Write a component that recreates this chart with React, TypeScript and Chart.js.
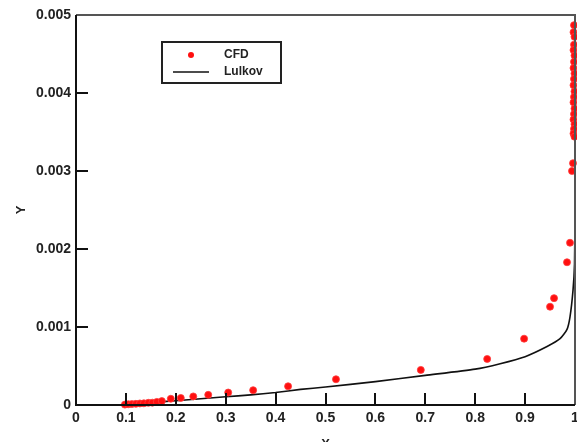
import React, { useEffect, useRef } from "react";
import { Chart, registerables } from "chart.js";

Chart.register(...registerables);

const xTicks = [0, 0.1, 0.2, 0.3, 0.4, 0.5, 0.6, 0.7, 0.8, 0.9, 1];
const yTicks = [0, 0.001, 0.002, 0.003, 0.004, 0.005];

const cfdX = [
  0.098, 0.105, 0.112, 0.12, 0.128, 0.136, 0.145, 0.153, 0.162, 0.172, 0.19, 0.21,
  0.235, 0.265, 0.305, 0.355, 0.425, 0.521, 0.691, 0.824, 0.898, 0.95, 0.958,
  0.984, 0.99, 0.994, 0.996,
  0.998, 0.997, 0.999, 0.998, 0.997, 0.999, 0.998, 0.997, 0.999, 0.998, 0.997,
  0.999, 0.998, 0.997, 0.999, 0.998, 0.997, 0.999, 0.998, 0.997, 0.999,
];
const cfdY = [
  0.000005, 0.00001, 0.000012, 0.000015, 0.00002, 0.000022, 0.000028, 0.00003,
  0.00004, 0.00005, 0.00008, 0.00009, 0.00011, 0.00013, 0.00016, 0.00019, 0.00024,
  0.00033, 0.00045, 0.00059, 0.00085, 0.00126, 0.00137, 0.00183, 0.00208, 0.003,
  0.0031,
  0.00487, 0.00478, 0.00472, 0.00462, 0.00455, 0.00448, 0.0044, 0.00432, 0.00425,
  0.00418, 0.0041, 0.00402, 0.00395, 0.00388, 0.0038, 0.00373, 0.00366, 0.0036,
  0.00354, 0.00348, 0.00344,
];

const lulX = [
  0.1, 0.15, 0.2, 0.25, 0.3, 0.35, 0.4, 0.45, 0.5, 0.6, 0.7, 0.8, 0.85, 0.9, 0.944,
  0.97, 0.984, 0.99, 0.996, 0.999, 1.0, 1.0,
];
const lulY = [
  0, 0.00003, 0.000055, 0.00008, 0.000105, 0.00013, 0.00016, 0.0002, 0.00023,
  0.0003, 0.00038, 0.00046, 0.00053, 0.00062, 0.00075, 0.00085, 0.00097, 0.00113,
  0.00147, 0.0018, 0.0025, 0.005,
];

const seriesLabels = ["CFD", "Lulkov"];

const FONT = "'Liberation Sans', Arial, sans-serif";

const framePlugin = {
  id: "frameAndTicks",
  afterDatasetsDraw(chart: any) {
    const { ctx, chartArea } = chart;
    const { left, right, top, bottom } = chartArea;
    const xs = chart.scales.x;
    const ys = chart.scales.y;
    ctx.save();
    ctx.strokeStyle = "#111";
    ctx.lineWidth = 2;
    ctx.beginPath();
    xs.ticks.forEach((t: any) => {
      const px = Math.round(xs.getPixelForValue(t.value));
      ctx.moveTo(px, bottom);
      ctx.lineTo(px, bottom - 12);
    });
    ys.ticks.forEach((t: any) => {
      const py = Math.round(ys.getPixelForValue(t.value));
      ctx.moveTo(left, py);
      ctx.lineTo(left + 12, py);
    });
    ctx.stroke();
    ctx.strokeStyle = "#555";
    ctx.lineWidth = 2;
    ctx.beginPath();
    ctx.moveTo(left, top);
    ctx.lineTo(right, top);
    ctx.lineTo(right, bottom);
    ctx.stroke();
    ctx.strokeStyle = "#111";
    ctx.beginPath();
    ctx.moveTo(left, top);
    ctx.lineTo(left, bottom);
    ctx.lineTo(right, bottom);
    ctx.stroke();

    const bx = 162, by = 42, bw = 119, bh = 41;
    ctx.fillStyle = "#fff";
    ctx.fillRect(bx, by, bw, bh);
    ctx.strokeStyle = "#222";
    ctx.lineWidth = 2;
    ctx.strokeRect(bx, by, bw, bh);
    const ds0 = chart.data.datasets[0];
    const ds1 = chart.data.datasets[1];
    ctx.fillStyle = ds0.pointBackgroundColor;
    ctx.beginPath();
    ctx.arc(191, 55, 3, 0, Math.PI * 2);
    ctx.fill();
    ctx.strokeStyle = ds1.borderColor;
    ctx.lineWidth = 1.5;
    ctx.beginPath();
    ctx.moveTo(173, 72);
    ctx.lineTo(209, 72);
    ctx.stroke();
    ctx.fillStyle = "#222";
    ctx.font = `bold 12px ${FONT}`;
    ctx.textBaseline = "middle";
    ctx.textAlign = "left";
    ctx.fillText(ds0.label, 224, 55);
    ctx.fillText(ds1.label, 224, 72);
    ctx.restore();
  },
};

function fmtX(v: number) {
  const r = Math.round(v * 10) / 10;
  if (r === 0) return "0";
  if (r === 1) return "1";
  return r.toFixed(1);
}
function fmtY(v: number) {
  const r = Math.round(v * 1000) / 1000;
  if (r === 0) return "0";
  return r.toFixed(3);
}

export default function App() {
  const ref = useRef<HTMLCanvasElement>(null);
  useEffect(() => {
    document.body.style.margin = "0";
    const chart = new Chart(ref.current!, {
      type: "scatter",
      data: {
        datasets: [
          {
            label: seriesLabels[0],
            data: cfdX.map((x, i) => ({ x, y: cfdY[i] })),
            pointRadius: 3.5,
            pointBackgroundColor: "#ff1010",
            pointBorderColor: "rgba(255,60,60,0.8)",
            pointBorderWidth: 1,
            showLine: false,
            clip: false as any,
            order: 1,
          },
          {
            label: seriesLabels[1],
            data: lulX.map((x, i) => ({ x, y: lulY[i] })),
            showLine: true,
            borderColor: "#111",
            borderWidth: 1.6,
            pointRadius: 0,
            tension: 0.2,
            order: 2,
          } as any,
        ],
      },
      options: {
        animation: false,
        responsive: false,
        maintainAspectRatio: false,
        layout: { padding: { top: 15, right: 0, left: 0, bottom: 0 } },
        plugins: {
          legend: { display: false },
          tooltip: { enabled: false },
        },
        scales: {
          x: {
            type: "linear",
            min: 0,
            max: 1,
            afterBuildTicks: (s: any) => {
              s.ticks = xTicks.map((v) => ({ value: v }));
            },
            afterFit: (s: any) => {
              s.height = 37;
              s.paddingLeft = 0;
              s.paddingRight = 0;
            },
            grid: { display: false, drawTicks: false },
            border: { display: false },
            ticks: {
              padding: 5,
              color: "#222",
              font: { family: FONT, size: 14, weight: "bold" },
              callback: (v: any) => fmtX(Number(v)),
              maxRotation: 0,
              autoSkip: false,
            },
            title: {
              display: true,
              text: "X",
              color: "#222",
              font: { family: FONT, size: 13, weight: "bold" },
              padding: { top: 0, bottom: -10 },
            },
          },
          y: {
            type: "linear",
            min: 0,
            max: 0.005,
            afterBuildTicks: (s: any) => {
              s.ticks = yTicks.map((v) => ({ value: v }));
            },
            afterFit: (s: any) => {
              s.width = 76;
              s.paddingTop = 0;
              s.paddingBottom = 0;
            },
            grid: { display: false, drawTicks: false },
            border: { display: false },
            ticks: {
              padding: 5,
              color: "#222",
              font: { family: FONT, size: 14, weight: "bold" },
              callback: (v: any) => fmtY(Number(v)),
              autoSkip: false,
            },
            title: {
              display: true,
              text: "Y",
              color: "#222",
              font: { family: FONT, size: 13, weight: "bold" },
              padding: { top: 14, bottom: 0 },
            },
          },
        },
      },
      plugins: [framePlugin],
    });
    return () => chart.destroy();
  }, []);
  return (
    <div style={{ width: 577, height: 442, overflow: "hidden" }}>
      <canvas ref={ref} width={580} height={442} style={{ display: "block" }} />
    </div>
  );
}
